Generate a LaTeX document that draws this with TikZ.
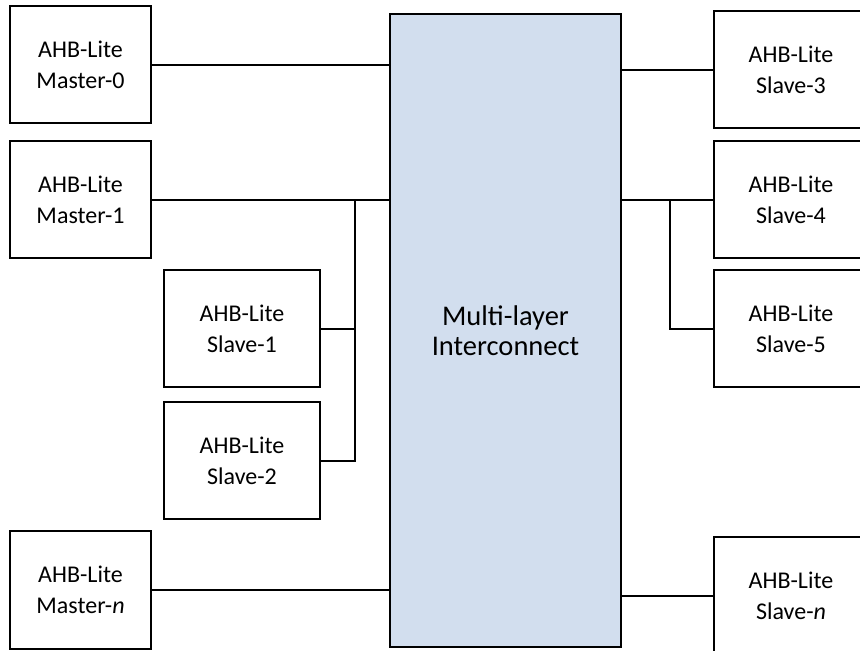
\documentclass[tikz,border=0pt]{standalone}
\usepackage{fontspec}
\setmainfont{Carlito}
\definecolor{icfill}{HTML}{D2DEEE}
\tikzset{
  blk/.style={draw=black, line width=2pt, fill=white, align=center,
    font=\fontsize{24}{31}\selectfont, inner sep=0pt},
  wire/.style={draw=black, line width=2pt},
}
\begin{document}
\begin{tikzpicture}[x=1pt,y=-1pt]
\useasboundingbox (0,0) rectangle (860,651);
\fill[white] (0,0) rectangle (860,651);
\clip (0,0) rectangle (860,651);
% interconnect
\node[blk, fill=icfill, minimum width=231pt, minimum height=633pt,
  font=\fontsize{28.5}{30}\selectfont] (ic) at (505.5,330.5) {Multi-layer\\Interconnect};
% masters
\node[blk, minimum width=141pt, minimum height=117pt] (m0) at (80.5,64.5) {AHB-Lite\\Master-0};
\node[blk, minimum width=141pt, minimum height=117pt] (m1) at (80.5,199.5) {AHB-Lite\\Master-1};
\node[blk, minimum width=141pt, minimum height=118pt] (mn) at (80.5,590) {AHB-Lite\\Master-\textit{n}};
% left slaves
\node[blk, minimum width=156pt, minimum height=117pt] (s1) at (242,328.5) {AHB-Lite\\Slave-1};
\node[blk, minimum width=156pt, minimum height=117pt] (s2) at (242,460.5) {AHB-Lite\\Slave-2};
% right slaves
\node[blk, minimum width=154pt, minimum height=117pt] (s3) at (791,69.5) {AHB-Lite\\Slave-3};
\node[blk, minimum width=154pt, minimum height=117pt] (s4) at (791,199.5) {AHB-Lite\\Slave-4};
\node[blk, minimum width=154pt, minimum height=117pt] (s5) at (791,328.5) {AHB-Lite\\Slave-5};
\node[blk, minimum width=154pt, minimum height=117pt] (sn) at (791,595.5) {AHB-Lite\\Slave-\textit{n}};
% bus junctions
\coordinate (bl) at (355,199.5);
\coordinate (br) at (670,199.5);
% connectors
\draw[wire] (m0.east) -- (m0.east -| ic.west);
\draw[wire] (m1.east) -- (m1.east -| ic.west);
\draw[wire] (mn.east) -- (mn.east -| ic.west);
\draw[wire] (s1.east) -| (bl);
\draw[wire] (s2.east) -| (bl);
\draw[wire] (s3.west) -- (s3.west -| ic.east);
\draw[wire] (s4.west) -- (s4.west -| ic.east);
\draw[wire] (sn.west) -- (sn.west -| ic.east);
\draw[wire] (s5.west) -| (br);
\end{tikzpicture}
\end{document}
